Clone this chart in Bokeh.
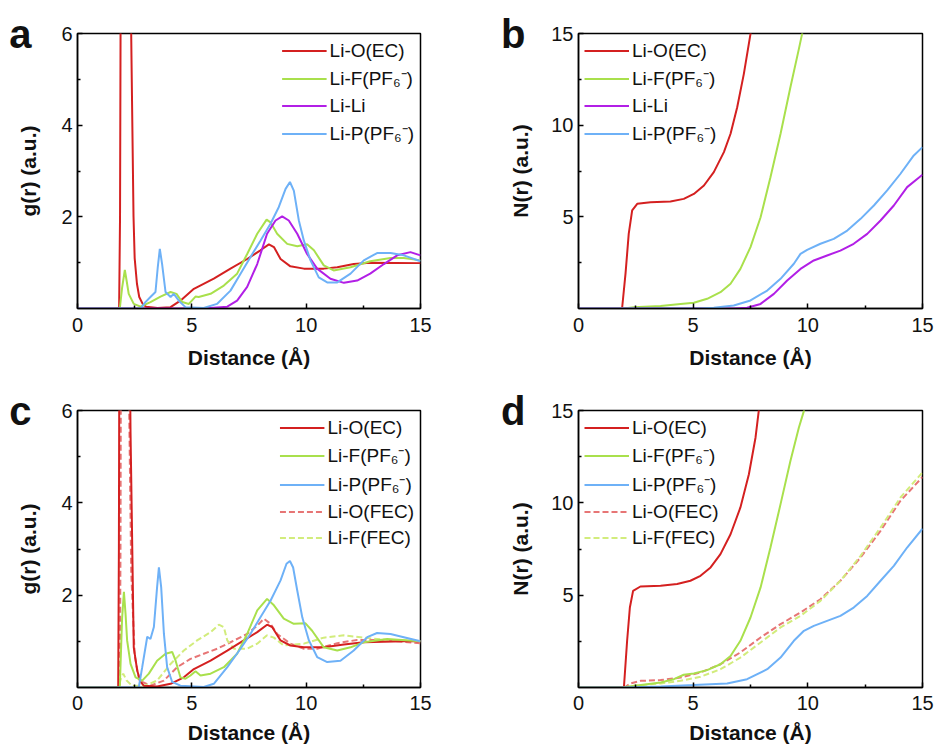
from bokeh.plotting import figure
from bokeh.models import Range1d, FixedTicker, Legend, LegendItem, LinearAxis
from bokeh.layouts import column, row
from bokeh.embed import file_html
from bokeh.resources import INLINE

# ---------------- data ----------------
# Panel a : g(r)
a_LiO_x = [0, 1.82, 1.86, 1.9, 2.0, 2.1, 2.2, 2.3, 2.36, 2.45, 2.5, 2.6, 2.7, 2.85, 3.0, 3.5, 4.07, 4.5, 5.09, 5.96, 6.69, 7.42, 8.0, 8.37, 8.59, 8.88, 9.31, 9.9, 10.77, 11.36, 12.08, 12.8, 15]
a_LiO_y = [0, 0, 2, 9, 22, 24, 15, 8, 5.5, 2.0, 1.1, 0.54, 0.25, 0.1, 0.04, 0.01, 0.03, 0.17, 0.43, 0.65, 0.87, 1.08, 1.27, 1.40, 1.34, 1.08, 0.92, 0.87, 0.87, 0.9, 0.97, 1.0, 0.99]
a_LiF_x = [0, 1.85, 1.95, 2.07, 2.15, 2.24, 2.46, 2.76, 3.19, 3.63, 4.07, 4.33, 4.58, 4.87, 5.16, 5.3, 5.82, 6.4, 6.98, 7.42, 7.86, 8.27, 8.44, 8.73, 9.17, 9.61, 10.04, 10.34, 10.77, 11.2, 11.94, 12.8, 13.69, 14.27, 15]
a_LiF_y = [0, 0, 0.45, 0.84, 0.6, 0.32, 0.1, 0.04, 0.14, 0.26, 0.36, 0.32, 0.14, 0.1, 0.26, 0.25, 0.32, 0.5, 0.76, 1.19, 1.63, 1.94, 1.88, 1.63, 1.41, 1.36, 1.40, 1.27, 0.94, 0.83, 0.9, 1.03, 1.1, 1.1, 1.05]
a_LiLi_x = [0, 5.5, 6.55, 6.98, 7.42, 7.86, 8.29, 8.66, 8.95, 9.24, 9.61, 10.04, 10.48, 11.06, 11.65, 12.23, 12.8, 13.4, 13.98, 14.56, 15]
a_LiLi_y = [0, 0, 0.04, 0.17, 0.47, 0.97, 1.63, 1.92, 2.01, 1.92, 1.63, 1.19, 0.87, 0.65, 0.56, 0.61, 0.76, 0.97, 1.16, 1.23, 1.16]
a_LiP_x = [0, 2.76, 2.97, 3.19, 3.41, 3.51, 3.6, 3.7, 3.85, 4.07, 4.21, 4.43, 4.72, 5.52, 6.1, 6.69, 7.13, 7.56, 8.0, 8.44, 8.8, 9.1, 9.29, 9.46, 9.68, 9.9, 10.19, 10.55, 10.92, 11.36, 11.94, 12.52, 13.1, 13.69, 14.27, 15]
a_LiP_y = [0, 0, 0.14, 0.25, 0.36, 0.9, 1.30, 0.97, 0.36, 0.25, 0.32, 0.17, 0.03, 0.01, 0.1, 0.39, 0.76, 1.12, 1.48, 1.85, 2.21, 2.61, 2.76, 2.57, 1.92, 1.48, 1.05, 0.68, 0.57, 0.57, 0.76, 1.05, 1.21, 1.21, 1.16, 1.03]

# Panel b : N(r)
b_LiO_x = [0, 1.9, 2.05, 2.19, 2.34, 2.56, 3.14, 4.01, 4.59, 5.03, 5.47, 5.9, 6.34, 6.63, 6.92, 7.21, 7.5, 7.7]
b_LiO_y = [0, 0, 1.9, 4.07, 5.35, 5.71, 5.8, 5.84, 5.98, 6.25, 6.71, 7.44, 8.53, 9.53, 10.98, 12.8, 14.98, 16.5]
b_LiF_x = [0, 2.0, 2.41, 3.58, 4.45, 5.03, 5.61, 6.19, 6.63, 7.06, 7.5, 7.94, 8.37, 8.81, 9.24, 9.61, 9.75, 9.9]
b_LiF_y = [0, 0, 0.07, 0.13, 0.25, 0.31, 0.53, 0.89, 1.35, 2.16, 3.35, 4.98, 7.16, 9.53, 12.07, 14.16, 14.98, 15.8]
b_LiLi_x = [0, 6.8, 7.35, 7.94, 8.52, 9.1, 9.68, 10.26, 10.84, 11.42, 12.0, 12.59, 13.17, 13.75, 14.33, 15]
b_LiLi_y = [0, 0, 0.04, 0.25, 0.8, 1.53, 2.16, 2.62, 2.89, 3.16, 3.53, 4.07, 4.8, 5.62, 6.62, 7.3]
b_LiP_x = [0, 5.3, 5.9, 6.77, 7.5, 8.23, 8.81, 9.39, 9.68, 9.97, 10.55, 11.13, 11.72, 12.3, 12.88, 13.46, 14.04, 14.62, 15]
b_LiP_y = [0, 0, 0.04, 0.16, 0.44, 0.98, 1.62, 2.44, 2.98, 3.2, 3.53, 3.8, 4.25, 4.89, 5.62, 6.44, 7.35, 8.35, 8.8]

# Panel c : g(r)
c_LiO_x = [0, 1.78, 1.81, 1.85, 1.95, 2.05, 2.15, 2.25, 2.32, 2.46, 2.61, 2.76, 2.9, 3.48, 4.07, 4.65, 5.09, 5.82, 6.55, 7.27, 7.86, 8.29, 8.51, 8.88, 9.31, 9.9, 10.77, 11.65, 12.52, 14.27, 15]
c_LiO_y = [0, 0, 3, 12, 25, 26, 18, 9, 5.5, 0.87, 0.37, 0.12, 0.04, 0.02, 0.08, 0.22, 0.4, 0.58, 0.8, 1.02, 1.2, 1.36, 1.31, 1.02, 0.91, 0.87, 0.87, 0.93, 0.98, 1.0, 1.0]
c_LiF_x = [0, 1.85, 1.95, 2.03, 2.1, 2.17, 2.32, 2.54, 2.83, 3.12, 3.48, 3.85, 4.14, 4.29, 4.5, 4.72, 4.94, 5.16, 5.38, 5.82, 6.4, 6.98, 7.42, 7.86, 8.29, 8.59, 9.02, 9.46, 9.97, 10.26, 10.77, 11.36, 11.94, 12.52, 13.54, 15]
c_LiF_y = [0, 0, 1.5, 2.07, 1.6, 1.02, 0.51, 0.22, 0.15, 0.3, 0.58, 0.73, 0.77, 0.58, 0.22, 0.19, 0.26, 0.35, 0.26, 0.3, 0.44, 0.73, 1.16, 1.67, 1.92, 1.78, 1.49, 1.38, 1.39, 1.23, 0.87, 0.8, 0.87, 0.98, 1.05, 1.0]
c_LiP_x = [0, 2.68, 2.83, 3.05, 3.19, 3.34, 3.48, 3.56, 3.66, 3.78, 3.92, 4.14, 4.5, 5.52, 5.96, 6.55, 7.13, 7.56, 8.0, 8.44, 8.88, 9.14, 9.29, 9.43, 9.61, 9.83, 10.12, 10.48, 10.92, 11.5, 12.08, 12.67, 13.1, 13.69, 14.27, 15]
c_LiP_y = [0, 0, 0.44, 1.1, 1.05, 1.31, 2.17, 2.6, 2.17, 1.16, 0.44, 0.12, 0.04, 0.01, 0.08, 0.44, 0.84, 1.16, 1.52, 1.88, 2.32, 2.68, 2.74, 2.6, 2.1, 1.52, 1.02, 0.66, 0.55, 0.58, 0.8, 1.09, 1.18, 1.16, 1.09, 1.0]
c_LiOF_x = [0, 1.85, 1.88, 1.92, 2.0, 2.1, 2.2, 2.26, 2.35, 2.5, 2.7, 3.19, 3.78, 4.36, 4.94, 5.52, 6.11, 6.69, 7.42, 7.86, 8.15, 8.44, 8.73, 9.31, 9.9, 10.48, 11.36, 12.23, 13.1, 13.98, 15]
c_LiOF_y = [0, 0, 3, 12, 22, 20, 10, 6, 2.5, 0.7, 0.15, 0.04, 0.15, 0.44, 0.62, 0.73, 0.84, 0.98, 1.16, 1.34, 1.49, 1.38, 1.16, 0.95, 0.84, 0.84, 0.96, 1.03, 1.03, 1.0, 0.96]
c_LiFF_x = [0, 1.8, 1.9, 2.0, 2.15, 2.4, 3.0, 3.48, 4.07, 4.65, 5.23, 5.82, 6.18, 6.4, 6.55, 6.84, 7.42, 7.86, 8.29, 8.59, 9.02, 9.9, 10.77, 11.65, 12.52, 13.54, 15]
c_LiFF_y = [0, 0, 0.2, 0.3, 0.15, 0.03, 0.05, 0.15, 0.51, 0.8, 1.02, 1.2, 1.36, 1.31, 1.02, 0.84, 0.84, 0.95, 1.13, 1.08, 0.91, 0.95, 1.08, 1.13, 1.08, 1.03, 1.0]

# Panel d : N(r)
d_LiO_x = [0, 1.98, 2.12, 2.24, 2.38, 2.7, 3.58, 4.3, 4.88, 5.32, 5.76, 6.19, 6.63, 7.06, 7.43, 7.72, 7.86, 8.0]
d_LiO_y = [0, 0, 2.53, 4.33, 5.23, 5.47, 5.51, 5.6, 5.78, 6.05, 6.5, 7.22, 8.3, 9.75, 11.55, 13.54, 14.98, 16.2]
d_LiF_x = [0, 1.95, 2.12, 3.58, 4.16, 4.59, 5.03, 5.61, 6.19, 6.63, 7.06, 7.5, 7.94, 8.37, 8.81, 9.24, 9.61, 9.83, 9.95]
d_LiF_y = [0, 0, 0.04, 0.27, 0.45, 0.69, 0.76, 0.94, 1.26, 1.71, 2.53, 3.79, 5.42, 7.58, 9.93, 12.27, 14.08, 14.98, 15.6]
d_LiP_x = [0, 2.0, 3.58, 5.03, 6.48, 7.35, 8.23, 8.81, 9.39, 9.83, 10.26, 10.84, 11.42, 12.0, 12.59, 13.17, 13.75, 14.33, 15]
d_LiP_y = [0, 0, 0.05, 0.13, 0.22, 0.45, 0.99, 1.62, 2.53, 3.07, 3.34, 3.61, 3.88, 4.33, 4.96, 5.78, 6.59, 7.58, 8.6]
d_LiOF_x = [0, 2.0, 2.27, 2.7, 3.58, 4.45, 5.32, 6.19, 7.06, 7.94, 8.81, 9.68, 10.55, 11.42, 12.3, 13.17, 14.04, 15]
d_LiOF_y = [0, 0, 0.22, 0.36, 0.4, 0.54, 0.81, 1.26, 1.9, 2.71, 3.43, 4.06, 4.78, 5.78, 7.04, 8.48, 10.11, 11.4]
d_LiFF_x = [0, 2.0, 2.41, 3.58, 4.45, 5.32, 6.19, 7.06, 7.94, 8.81, 9.68, 10.55, 11.42, 12.3, 13.17, 14.04, 15]
d_LiFF_y = [0, 0, 0.09, 0.22, 0.36, 0.58, 0.99, 1.62, 2.44, 3.25, 3.88, 4.69, 5.78, 7.13, 8.66, 10.29, 11.65]

x_ticks = [0, 5, 10, 15]
x_minor = [2.5, 7.5, 12.5]
g_ticks = [2, 4, 6]
g_minor = [1, 3, 5]
n_ticks = [5, 10, 15]
n_minor = [2.5, 7.5, 12.5]

lab_LiO = "Li-O(EC)"
lab_LiF = "Li-F(PF\u2086\u207b)"
lab_LiLi = "Li-Li"
lab_LiP = "Li-P(PF\u2086\u207b)"
lab_LiOF = "Li-O(FEC)"
lab_LiFF = "Li-F(FEC)"
panel_letters = ["a", "b", "c", "d"]

RED = "#d42020"
GREEN = "#a9e04c"
PURPLE = "#b21fe6"
BLUE = "#6eb1f7"
LRED = "#e77575"
LGREEN = "#d2ec7c"

FONT = "Liberation Sans"
INK = "#111111"


def make_fig(width, height, bl, br, bt, bb, ymax, yt, ym, ylabel, tstand, lstand, ylstand):
    p = figure(width=width, height=height, output_backend="svg", toolbar_location=None,
               x_range=Range1d(0, 15), y_range=Range1d(0, ymax),
               min_border_left=bl, min_border_right=br, min_border_top=bt, min_border_bottom=bb)
    p.xgrid.visible = False
    p.ygrid.visible = False
    p.outline_line_color = "black"
    p.outline_line_width = 1.5
    p.outline_line_alpha = 1
    p.xaxis.ticker = FixedTicker(ticks=x_ticks, minor_ticks=x_minor)
    p.yaxis.ticker = FixedTicker(ticks=yt, minor_ticks=ym)
    for ax in (p.xaxis[0], p.yaxis[0]):
        ax.axis_line_width = 1.5
        ax.major_tick_in = 5
        ax.major_tick_out = 0
        ax.minor_tick_in = 3
        ax.minor_tick_out = 0
        ax.major_tick_line_width = 1.5
        ax.minor_tick_line_width = 1.5
        ax.major_label_text_font = FONT
        ax.major_label_text_font_size = "20px"
        ax.major_label_text_color = INK
        ax.axis_label_text_font = FONT
        ax.axis_label_text_font_size = "21px"
        ax.axis_label_text_font_style = "bold"
        ax.axis_label_text_color = INK
    p.xaxis.axis_label = "Distance (\u00c5)"
    p.xaxis.major_label_standoff = tstand
    p.xaxis.axis_label_standoff = lstand
    p.yaxis.axis_label = ylabel
    p.yaxis.major_label_standoff = 5
    p.yaxis.axis_label_standoff = ylstand
    return p


def add_legend(p, items, loc):
    leg = Legend(items=items, location=loc)
    leg.label_text_font = FONT
    leg.label_text_font_size = "19px"
    leg.label_text_color = INK
    leg.glyph_width = 45
    leg.glyph_height = 23
    leg.label_height = 23
    leg.label_standoff = 3
    leg.spacing = 3
    leg.padding = 6
    leg.margin = 0
    leg.border_line_alpha = 0
    leg.background_fill_alpha = 0
    p.add_layout(leg)


def letter(p, txt, ytop, standoff):
    ax = LinearAxis(ticker=FixedTicker(ticks=[ytop], minor_ticks=[]),
                    major_label_overrides={ytop: txt})
    ax.axis_line_alpha = 0
    ax.major_tick_line_alpha = 0
    ax.minor_tick_line_alpha = 0
    ax.major_tick_in = 0
    ax.major_tick_out = 0
    ax.minor_tick_in = 0
    ax.minor_tick_out = 0
    ax.major_label_standoff = standoff
    ax.major_label_text_font = FONT
    ax.major_label_text_font_size = "40px"
    ax.major_label_text_font_style = "bold"
    ax.major_label_text_color = INK
    p.add_layout(ax, "left")


LW = 2

# ---- panel a
pa = make_fig(493, 374, 77, 73, 33, 66, 6, g_ticks, g_minor, "g(r) (a.u.)", 9, 11, 18)
r1 = pa.line(a_LiO_x, a_LiO_y, color=RED, line_width=LW)
r2 = pa.line(a_LiF_x, a_LiF_y, color=GREEN, line_width=LW)
r3 = pa.line(a_LiLi_x, a_LiLi_y, color=PURPLE, line_width=LW)
r4 = pa.line(a_LiP_x, a_LiP_y, color=BLUE, line_width=LW)
add_legend(pa, [LegendItem(label=lab_LiO, renderers=[r1]), LegendItem(label=lab_LiF, renderers=[r2]),
                LegendItem(label=lab_LiLi, renderers=[r3]), LegendItem(label=lab_LiP, renderers=[r4])], "top_right")
letter(pa, panel_letters[0], 6, -17)

# ---- panel b
pb = make_fig(441, 374, 85, 12, 33, 66, 15, n_ticks, n_minor, "N(r) (a.u.)", 9, 11, 16)
r1 = pb.line(b_LiO_x, b_LiO_y, color=RED, line_width=LW)
r2 = pb.line(b_LiF_x, b_LiF_y, color=GREEN, line_width=LW)
r3 = pb.line(b_LiLi_x, b_LiLi_y, color=PURPLE, line_width=LW)
r4 = pb.line(b_LiP_x, b_LiP_y, color=BLUE, line_width=LW)
add_legend(pb, [LegendItem(label=lab_LiO, renderers=[r1]), LegendItem(label=lab_LiF, renderers=[r2]),
                LegendItem(label=lab_LiLi, renderers=[r3]), LegendItem(label=lab_LiP, renderers=[r4])], "top_left")
letter(pb, panel_letters[1], 15, -19)

# ---- panel c
pc = make_fig(493, 373, 77, 73, 36, 60, 6, g_ticks, g_minor, "g(r) (a.u.)", 8, 8, 18)
r5 = pc.line(c_LiOF_x, c_LiOF_y, color=LRED, line_width=LW, line_dash="6 3")
r6 = pc.line(c_LiFF_x, c_LiFF_y, color=LGREEN, line_width=LW, line_dash="6 3")
r1 = pc.line(c_LiO_x, c_LiO_y, color=RED, line_width=LW)
r2 = pc.line(c_LiF_x, c_LiF_y, color=GREEN, line_width=LW)
r4 = pc.line(c_LiP_x, c_LiP_y, color=BLUE, line_width=LW)
add_legend(pc, [LegendItem(label=lab_LiO, renderers=[r1]), LegendItem(label=lab_LiF, renderers=[r2]),
                LegendItem(label=lab_LiP, renderers=[r4]), LegendItem(label=lab_LiOF, renderers=[r5]),
                LegendItem(label=lab_LiFF, renderers=[r6])], "top_right")
letter(pc, panel_letters[2], 6, -17)

# ---- panel d
pd_ = make_fig(441, 373, 85, 12, 36, 60, 15, n_ticks, n_minor, "N(r) (a.u.)", 8, 8, 16)
r5 = pd_.line(d_LiOF_x, d_LiOF_y, color=LRED, line_width=LW, line_dash="6 3")
r6 = pd_.line(d_LiFF_x, d_LiFF_y, color=LGREEN, line_width=LW, line_dash="6 3")
r1 = pd_.line(d_LiO_x, d_LiO_y, color=RED, line_width=LW)
r2 = pd_.line(d_LiF_x, d_LiF_y, color=GREEN, line_width=LW)
r4 = pd_.line(d_LiP_x, d_LiP_y, color=BLUE, line_width=LW)
add_legend(pd_, [LegendItem(label=lab_LiO, renderers=[r1]), LegendItem(label=lab_LiF, renderers=[r2]),
                 LegendItem(label=lab_LiP, renderers=[r4]), LegendItem(label=lab_LiOF, renderers=[r5]),
                 LegendItem(label=lab_LiFF, renderers=[r6])], "top_left")
letter(pd_, panel_letters[3], 15, -19)

layout = column(row(pa, pb), row(pc, pd_))
open("out.html", "w").write(file_html(layout, INLINE))
